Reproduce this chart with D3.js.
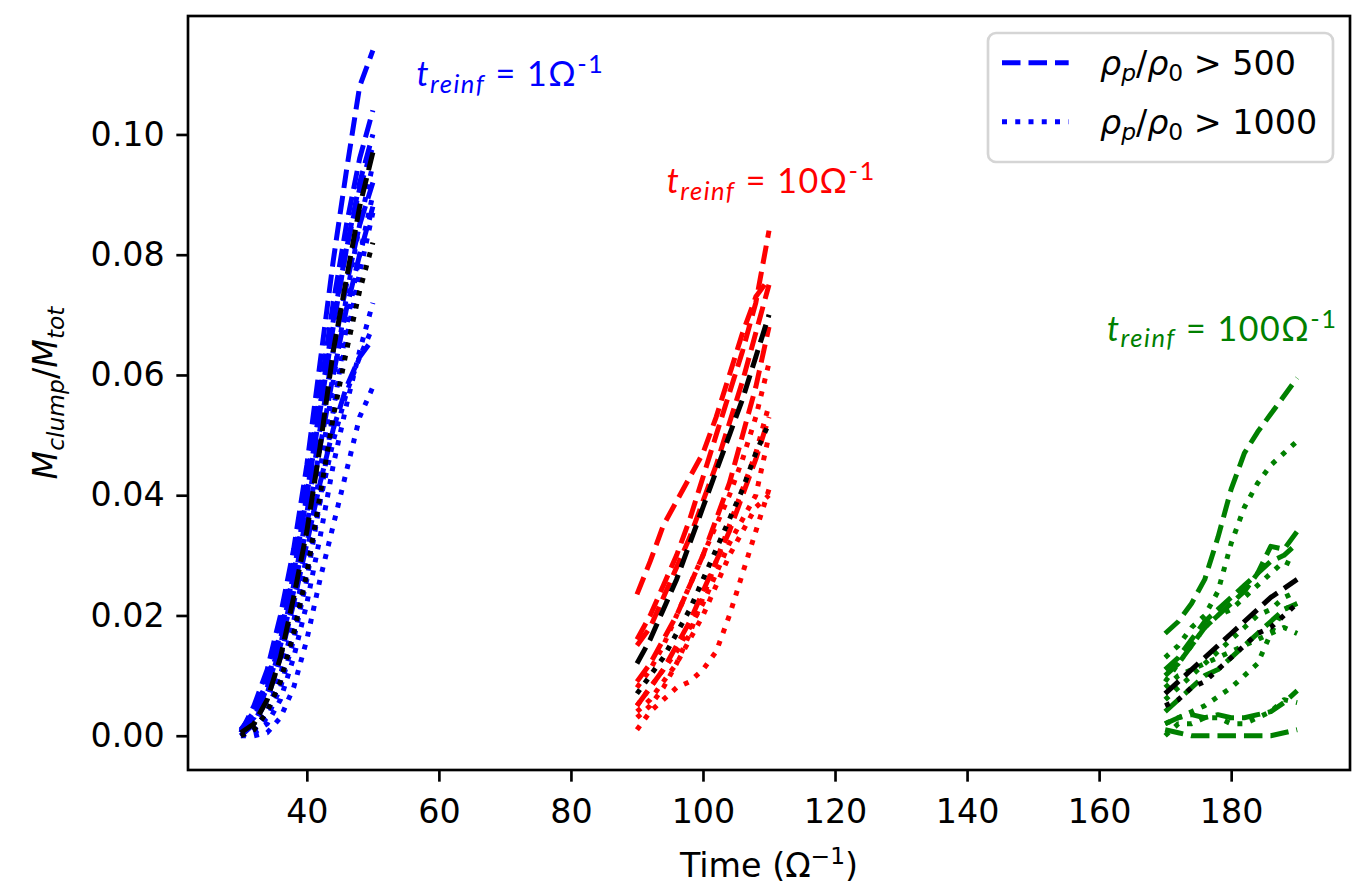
<!DOCTYPE html>
<html>
<head>
<meta charset="utf-8">
<script src="https://cdn.jsdelivr.net/npm/d3@7"></script>
<style>
  body { margin: 0; background: white; }
  text { white-space: pre; }
</style>
</head>
<body>
<div id="chart"></div>
<script>
// time samples for each reinforcement run
const blueTime = [30, 32, 34, 36, 38, 40, 42, 44, 46, 48, 50];
const redTime = [90, 92, 94, 96, 98, 100, 102, 104, 106, 108, 110];
const greenTime = [170, 172, 174, 176, 178, 180, 182, 184, 186, 188, 190];

// rho_p/rho_0 > 500 (dashed) and > 1000 (dotted), t_reinf = 1
const blueDashed = [
    [0.0005, 0.005, 0.011, 0.020, 0.031, 0.045, 0.062, 0.079, 0.094, 0.108, 0.114],
    [0.0008, 0.004, 0.009, 0.018, 0.029, 0.042, 0.057, 0.072, 0.085, 0.096, 0.104],
    [0.001, 0.004, 0.009, 0.017, 0.027, 0.040, 0.054, 0.068, 0.081, 0.092, 0.100],
    [0, 0.002, 0.007, 0.015, 0.025, 0.037, 0.051, 0.064, 0.075, 0.085, 0.092],
    [0.001, 0.003, 0.008, 0.015, 0.024, 0.035, 0.048, 0.060, 0.071, 0.080, 0.088],
    [0, 0.002, 0.006, 0.013, 0.022, 0.032, 0.042, 0.051, 0.058, 0.063, 0.066],
    [0.0005, 0.003, 0.008, 0.016, 0.027, 0.040, 0.055, 0.069, 0.081, 0.091, 0.098]
];
const blueDotted = [
    [0, 0, 0.0005, 0.003, 0.008, 0.016, 0.026, 0.035, 0.044, 0.053, 0.058],
    [0, 0.0005, 0.002, 0.006, 0.013, 0.022, 0.033, 0.045, 0.055, 0.064, 0.072],
    [0, 0.001, 0.004, 0.009, 0.017, 0.027, 0.040, 0.054, 0.066, 0.077, 0.087],
    [0, 0.001, 0.003, 0.008, 0.016, 0.026, 0.039, 0.054, 0.068, 0.080, 0.090],
    [0, 0.001, 0.004, 0.010, 0.018, 0.028, 0.039, 0.049, 0.057, 0.063, 0.068],
    [0, 0.001, 0.004, 0.010, 0.019, 0.030, 0.044, 0.059, 0.073, 0.085, 0.095]
];
const blueMeanDashed = [0.0005, 0.002, 0.006, 0.013, 0.023, 0.034, 0.048, 0.064, 0.076, 0.088, 0.097];
const blueMeanDotted = [0, 0.001, 0.004, 0.009, 0.017, 0.027, 0.040, 0.053, 0.064, 0.074, 0.082];

// t_reinf = 10
const redDashed = [
    [0.0235, 0.029, 0.035, 0.039, 0.043, 0.047, 0.053, 0.060, 0.067, 0.073, 0.076],
    [0.016, 0.020, 0.025, 0.030, 0.036, 0.043, 0.050, 0.057, 0.064, 0.072, 0.084],
    [0.015, 0.018, 0.023, 0.028, 0.033, 0.039, 0.045, 0.052, 0.059, 0.067, 0.075],
    [0.009, 0.012, 0.016, 0.020, 0.025, 0.030, 0.036, 0.042, 0.050, 0.058, 0.068],
    [0.005, 0.008, 0.011, 0.015, 0.019, 0.024, 0.029, 0.034, 0.040, 0.046, 0.053]
];
const redDotted = [
    [0.001, 0.004, 0.006, 0.008, 0.009, 0.011, 0.014, 0.020, 0.027, 0.034, 0.041],
    [0.004, 0.006, 0.009, 0.012, 0.016, 0.020, 0.025, 0.030, 0.034, 0.038, 0.040],
    [0.003, 0.005, 0.008, 0.012, 0.017, 0.023, 0.029, 0.035, 0.041, 0.047, 0.055],
    [0.008, 0.011, 0.015, 0.020, 0.025, 0.030, 0.035, 0.040, 0.046, 0.053, 0.062],
    [0.005, 0.008, 0.011, 0.014, 0.018, 0.022, 0.027, 0.032, 0.036, 0.040, 0.050]
];
const redMeanDashed = [0.012, 0.016, 0.021, 0.026, 0.032, 0.038, 0.044, 0.050, 0.056, 0.063, 0.070];
const redMeanDotted = [0.007, 0.010, 0.013, 0.017, 0.021, 0.026, 0.031, 0.036, 0.041, 0.047, 0.052];

// t_reinf = 100
const greenDashed = [
    [0.017, 0.019, 0.022, 0.026, 0.033, 0.041, 0.047, 0.0505, 0.0535, 0.0565, 0.0595],
    [0.010, 0.012, 0.015, 0.018, 0.020, 0.022, 0.024, 0.027, 0.0315, 0.031, 0.034],
    [0.011, 0.013, 0.016, 0.019, 0.021, 0.023, 0.025, 0.027, 0.029, 0.030, 0.032],
    [0.004, 0.006, 0.008, 0.010, 0.011, 0.013, 0.015, 0.017, 0.019, 0.021, 0.022],
    [0.002, 0.003, 0.0035, 0.003, 0.0035, 0.003, 0.003, 0.0035, 0.004, 0.0055, 0.0075],
    [0.001, 0.0005, 0, 0, 0, 0, 0, 0, 0, 0.0005, 0.001]
];
const greenDotted = [
    [0.013, 0.015, 0.018, 0.020, 0.024, 0.032, 0.038, 0.042, 0.045, 0.047, 0.049],
    [0.009, 0.012, 0.015, 0.018, 0.020, 0.021, 0.023, 0.025, 0.027, 0.029, 0.028],
    [0.006, 0.008, 0.010, 0.012, 0.014, 0.016, 0.018, 0.020, 0.021, 0.023, 0.024],
    [0.008, 0.010, 0.011, 0.012, 0.013, 0.014, 0.015, 0.016, 0.017, 0.018, 0.017],
    [0.002, 0.003, 0.004, 0.005, 0.0065, 0.008, 0.010, 0.012, 0.017, 0.021, 0.022],
    [0, 0.002, 0.002, 0.003, 0.003, 0.002, 0.002, 0.003, 0.004, 0.006, 0.0055]
];
const greenMeanDashed = [0.007, 0.009, 0.011, 0.013, 0.015, 0.017, 0.019, 0.021, 0.023, 0.0245, 0.026];
const greenMeanDotted = [0.005, 0.006, 0.008, 0.009, 0.011, 0.013, 0.015, 0.017, 0.018, 0.020, 0.022];

const xTicks = [40, 60, 80, 100, 120, 140, 160, 180];
const yTicks = [0, 0.02, 0.04, 0.06, 0.08, 0.10];
const legendLabels = ["500", "1000"];
const annotationLabels = ["1", "10", "100"];
const annotationAt = [[56.6, 0.108], [94.5, 0.0902], [161.2, 0.0657]];

const pt = 240 / 72;  // figure was saved at 240 dpi
const fontSize = 10 * pt;

const margin = { top: 16, right: 17, bottom: 125, left: 188 },
    width = 1367 - margin.left - margin.right,
    height = 895 - margin.top - margin.bottom;

const groups = [
    { time: blueTime, dashed: blueDashed, dotted: blueDotted, meanDashed: blueMeanDashed, meanDotted: blueMeanDotted, colour: "#0000ff" },
    { time: redTime, dashed: redDashed, dotted: redDotted, meanDashed: redMeanDashed, meanDotted: redMeanDotted, colour: "#ff0000" },
    { time: greenTime, dashed: greenDashed, dotted: greenDotted, meanDashed: greenMeanDashed, meanDotted: greenMeanDotted, colour: "#008000" }
];

// matplotlib style autoscale: data extent plus 5% each side
const allX = groups.flatMap(g => g.time);
const allY = groups.flatMap(g => [...g.dashed.flat(), ...g.dotted.flat(), ...g.meanDashed, ...g.meanDotted]);
const pad = (ext) => { const d = (ext[1] - ext[0]) * 0.05; return [ext[0] - d, ext[1] + d]; };

const x = d3.scaleLinear().domain(pad(d3.extent(allX))).range([0, width]);
const y = d3.scaleLinear().domain(pad(d3.extent(allY))).range([height, 0]);

const svg = d3.select("#chart")
    .append("svg")
        .attr("width", width + margin.left + margin.right)
        .attr("height", height + margin.top + margin.bottom)
        .style("font-family", "'DejaVu Sans'")
    .append("g")
        .attr("transform", `translate(${margin.left},${margin.top})`);

const dashes = {
    dashed: `${3.7 * 1.5 * pt},${1.6 * 1.5 * pt}`,
    dotted: `${1.5 * pt},${1.65 * 1.5 * pt}`
};

const drawSeries = (time, values, colour, style) => {
    const line = d3.line()
        .x((d, i) => x(time[i]))
        .y(d => y(d));
    svg.append("path")
        .datum(values)
        .attr("fill", "none")
        .attr("stroke", colour)
        .attr("stroke-width", 1.5 * pt)
        .attr("stroke-dasharray", dashes[style])
        .attr("stroke-linejoin", "round")
        .attr("stroke-linecap", "butt")
        .attr("d", line);
};

groups.forEach(g => {
    g.dashed.forEach(v => drawSeries(g.time, v, g.colour, "dashed"));
    g.dotted.forEach(v => drawSeries(g.time, v, g.colour, "dotted"));
    drawSeries(g.time, g.meanDashed, "#000", "dashed");
    drawSeries(g.time, g.meanDotted, "#000", "dotted");
});

// text with sub/superscripts built from tspans
const addRich = (textSel, parts, size, small = 0.7) => {
    let shift = 0;
    parts.forEach(p => {
        const target = p.sub ? size * 0.2 : p.sup ? -size * 0.38 : 0;
        textSel.append("tspan")
            .attr("dy", target - shift)
            .style("font-size", `${p.sub || p.sup ? size * small : size}px`)
            .style("font-style", p.italic ? "italic" : "normal")
            .text(p.text);
        shift = target;
    });
};

// annotations
groups.forEach((g, i) => {
    const t = svg.append("text")
        .attr("x", x(annotationAt[i][0]))
        .attr("y", y(annotationAt[i][1]))
        .style("font-family", "Lato, 'Open Sans', sans-serif")
        .style("letter-spacing", "1.5px")
        .style("fill", g.colour);
    addRich(t, [
        { text: "t", italic: true },
        { text: "reinf", italic: true, sub: true },
        { text: ` = ${annotationLabels[i]}Ω` },
        { text: "-1", sup: true }
    ], 34, 0.75);
});

// axes
const tickLen = 3.5 * pt;

const xAxisGroup = svg.append("g")
    .attr("transform", `translate(0,${height})`)
    .call(d3.axisBottom(x).tickValues(xTicks).tickSize(tickLen).tickPadding(17.5));

const yAxisGroup = svg.append("g")
    .call(d3.axisLeft(y).tickValues(yTicks).tickFormat(d3.format(".2f")).tickSize(tickLen).tickPadding(3.5 * pt));

[xAxisGroup, yAxisGroup].forEach(a => {
    a.select(".domain").remove();
    a.selectAll("line").style("stroke", "black").style("stroke-width", 0.8 * pt);
    a.selectAll("text")
        .style("fill", "black")
        .style("font-family", "'DejaVu Sans'")
        .style("font-size", `${fontSize}px`);
});

svg.append("rect")
    .attr("width", width)
    .attr("height", height)
    .attr("fill", "none")
    .attr("stroke", "black")
    .attr("stroke-width", 0.8 * pt);

const xLabel = svg.append("text")
    .attr("x", width / 2)
    .attr("y", height + 107)
    .attr("text-anchor", "middle");
addRich(xLabel, [{ text: "Time (Ω" }, { text: "−1", sup: true }, { text: ")" }], fontSize);

const yLabel = svg.append("text")
    .attr("transform", `translate(${57 - margin.left},${height / 2}) rotate(-90)`)
    .attr("text-anchor", "middle");
addRich(yLabel, [
    { text: "M", italic: true },
    { text: "clump", italic: true, sub: true },
    { text: "/" },
    { text: "M", italic: true },
    { text: "tot", italic: true, sub: true }
], fontSize);

// legend
const legend = svg.append("g")
    .attr("transform", `translate(${width - 17 - 345},17)`);

legend.append("rect")
    .attr("width", 345)
    .attr("height", 129)
    .attr("rx", 8)
    .attr("fill", "white")
    .attr("fill-opacity", 0.8)
    .attr("stroke", "#d5d5d5")
    .attr("stroke-width", 0.8 * pt);

["dashed", "dotted"].forEach((style, i) => {
    const rowY = 29.7 + i * 59;
    legend.append("line")
        .attr("x1", 14)
        .attr("x2", 14 + 2 * fontSize)
        .attr("y1", rowY)
        .attr("y2", rowY)
        .attr("stroke", "#0000ff")
        .attr("stroke-width", 1.5 * pt)
        .attr("stroke-dasharray", dashes[style]);
    const t = legend.append("text")
        .attr("x", 112)
        .attr("y", rowY + 12);
    addRich(t, [
        { text: "ρ", italic: true },
        { text: "p", italic: true, sub: true },
        { text: "/" },
        { text: "ρ", italic: true },
        { text: "0", sub: true },
        { text: ` > ${legendLabels[i]}` }
    ], fontSize);
});
</script>
</body>
</html>
